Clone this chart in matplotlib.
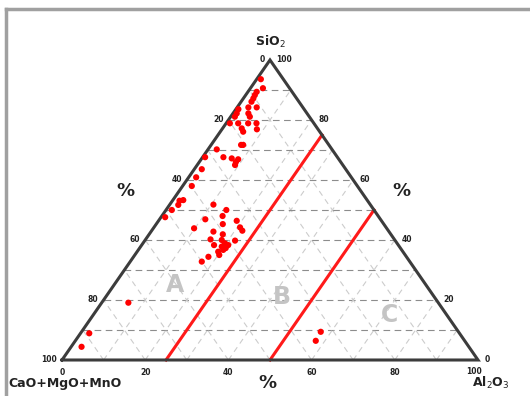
import numpy as np
import matplotlib.pyplot as plt
from matplotlib.lines import Line2D

# ternary data (percent)
sio2 = [93.6, 90.6, 89.4, 88.3, 87.2, 86.1, 84.2, 84.2, 83.6, 82.2, 82.2, 81.1, 81.1,
        78.9, 78.9, 78.9, 78.9, 77.2, 76.1, 76.9, 71.7, 71.7, 70.2, 67.6, 67.6, 67.2,
        66.9, 65.0, 66.0, 63.6, 60.9, 58.0, 53.3, 53.1, 51.7, 50.0, 47.6, 51.8, 50.0,
        48.0, 46.9, 43.9, 45.3, 42.8, 41.9, 46.4, 44.2, 43.1, 40.2, 38.3, 40.0, 38.9,
        38.3, 37.8, 36.7, 39.8, 36.1, 35.0, 34.4, 32.8, 37.3, 19.1, 8.9, 4.4, 9.4, 6.4]
al2o3 = [1.0, 3.0, 2.1, 2.2, 2.4, 2.5, 4.7, 2.7, 0.6, 0.9, 3.7, 4.6, 1.0,
         0.9, 2.9, 5.3, 7.3, 4.6, 5.5, 8.4, 7.2, 7.7, 2.1, 0.6, 5.0, 7.2,
         8.9, 9.1, 8.8, 1.8, 1.8, 2.2, 2.5, 1.7, 2.1, 1.4, 1.0, 10.5, 14.5,
         14.6, 11.0, 9.8, 16.0, 15.0, 17.7, 18.8, 20.7, 21.8, 15.6, 17.4, 18.4, 19.7,
         20.8, 19.5, 20.4, 21.7, 19.5, 20.3, 18.0, 17.2, 20.7, 6.4, 2.1, 2.5, 57.5, 57.8]

ticks = [0, 20, 40, 60, 80, 100]
boundaries = [25, 50]  # constant Al2O3 lines
zones = ['A', 'B', 'C']
zone_pos = [(14.7, 25), (42.4, 21), (71.3, 15)]  # (Al2O3, SiO2) of zone label


def tern(s, a):
    s = np.asarray(s, float)
    a = np.asarray(a, float)
    return a + s / 2.0, s


fig = plt.figure(figsize=(5.3, 3.96), dpi=100)
ax = fig.add_axes([0, 0, 1, 1])
ax.set_xlim(-62 / 4.16, 468 / 4.16)
ax.set_ylim(-12, 120)
ax.axis('off')

# frame of the picture
fig.add_artist(Line2D([6 / 530, 1], [1 - 9 / 396] * 2, color='#a0a0a0', lw=2.5))
fig.add_artist(Line2D([6 / 530] * 2, [0, 1 - 9 / 396], color='#a0a0a0', lw=2.5))

# grid
for v in range(10, 100, 10):
    # constant SiO2 (horizontal)
    x, y = tern([v, v], [0, 100 - v])
    ax.plot(x, y, color='#8c8c8c', lw=0.8, ls=(0, (6, 4)), zorder=1)
    # constant Al2O3
    x, y = tern([0, 100 - v], [v, v])
    ax.plot(x, y, color='#cccccc', lw=0.8, ls=(0, (5, 4)), zorder=1)
    # constant CaO
    x, y = tern([0, 100 - v], [100 - v, 0])
    ax.plot(x, y, color='#cccccc', lw=0.8, ls=(0, (5, 4)), zorder=1)

# triangle
x, y = tern([0, 0, 100, 0], [0, 100, 0, 0])
ax.plot(x, y, color='#3c3c3c', lw=2.2, zorder=3, solid_joinstyle='miter')

# boundaries
for b in boundaries:
    x, y = tern([0, 100 - b], [b, b])
    ax.plot(x, y, color='#ff1a1a', lw=2.2, zorder=2)

# zone labels
for z, (a, s) in zip(zones, zone_pos):
    x, y = tern(s, a)
    ax.text(x, y, z, fontsize=17, fontweight='bold', color='#c4c4c4',
            ha='center', va='center', zorder=2)

# points
x, y = tern(sio2, al2o3)
ax.scatter(x, y, s=20, color='#ff0000', edgecolors='none', zorder=4)

tk = dict(fontsize=5.5, fontweight='bold', color='#222222')
for t in ticks:
    # left edge: CaO+MgO+MnO
    x, y = tern(100 - t, 0)
    ax.text(x - 1.2, y, str(t), ha='right', va='center', **tk)
    # right edge: SiO2
    x, y = tern(t, 100 - t)
    ax.text(x + 1.6, y, str(t), ha='left', va='center', **tk)
    # bottom: Al2O3
    if 0 < t < 100:
        x, y = tern(0, t)
        ax.text(x, y - 4.3, str(t), ha='center', va='center', **tk)
ax.text(0, -4.3, '0', ha='center', va='center', **tk)
ax.text(99, -3.8, '100', ha='center', va='center', **tk)

lab = dict(fontsize=9, fontweight='bold', color='#222222')
ax.text(50, 106, 'SiO$_2$', ha='center', va='center', **lab)
ax.text(-13, -7.8, 'CaO+MgO+MnO', ha='left', va='center', **lab)
ax.text(103, -7.8, 'Al$_2$O$_3$', ha='center', va='center', **lab)
pc = dict(fontsize=13, fontweight='bold', color='#222222')
ax.text(15.2, 56.5, '%', ha='center', va='center', **pc)
ax.text(81.7, 56.5, '%', ha='center', va='center', **pc)
ax.text(49.5, -7.8, '%', ha='center', va='center', **pc)

fig.savefig('out.png', dpi=100)
